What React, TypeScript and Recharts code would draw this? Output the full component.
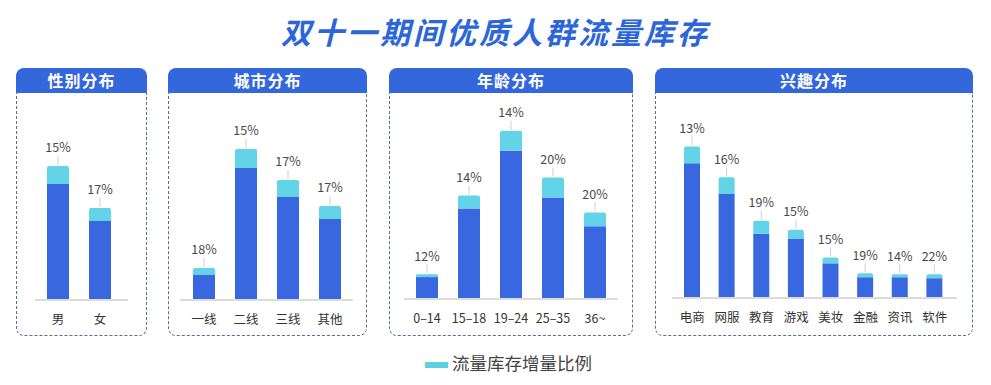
import React from 'react';
import { BarChart, Bar, XAxis, YAxis, LabelList } from 'recharts';

const genderCats = ['男', '女'];
const genderBase = [116, 79];
const genderInc = [18, 13];
const genderPct = ['15%', '17%'];

const cityCats = ['一线', '二线', '三线', '其他'];
const cityBase = [25, 132, 103, 81];
const cityInc = [7, 19, 17, 13];
const cityPct = ['18%', '15%', '17%', '17%'];

const ageCats = ['0–14', '15–18', '19–24', '25–35', '36~'];
const ageBase = [22, 91, 149, 102, 73];
const ageInc = [3, 13, 20, 20, 14];
const agePct = ['12%', '14%', '14%', '20%', '20%'];

const interestCats = ['电商', '网服', '教育', '游戏', '美妆', '金融', '资讯', '软件'];
const interestBase = [136, 105, 65, 60, 35, 21, 21, 20];
const interestInc = [17, 17, 13, 9, 6, 4, 3, 4];
const interestPct = ['13%', '16%', '19%', '15%', '15%', '19%', '14%', '22%'];

const titleText = '双十一期间优质人群流量库存';
const legendText = '流量库存增量比例';

const BLUE = '#3967e0';
const CYAN = '#63d3e8';
const HEADER = '#3466dc';
const FONT = '"Noto Sans CJK SC", "Noto Sans", sans-serif';

const build = (cats: string[], base: number[], inc: number[], pct: string[]) =>
  cats.map((c, i) => ({ name: c, base: base[i], inc: inc[i], pct: pct[i] }));

const panels = [
  { title: '性别分布', data: build(genderCats, genderBase, genderInc, genderPct), x: 16, w: 131, ml: 19, mr: 19, pl: 2, pr: 7, bar: 22, mb: 5 },
  { title: '城市分布', data: build(cityCats, cityBase, cityInc, cityPct), x: 168, w: 199, ml: 12, mr: 14, pl: 3, pr: 2, bar: 22, mb: 5 },
  { title: '年龄分布', data: build(ageCats, ageBase, ageInc, agePct), x: 389, w: 244, ml: 15, mr: 15, pl: 2, pr: 2, bar: 22, mb: 6 },
  { title: '兴趣分布', data: build(interestCats, interestBase, interestInc, interestPct), x: 655, w: 318, ml: 17, mr: 16, pl: 3, pr: 5, bar: 16, mb: 7 },
];

const HEADER_TOP = 68;
const HEADER_H = 25;
const BOTTOM = 336;

const PctLabel = (props: any) => {
  const { x, y, width, value } = props;
  const cx = x + width / 2;
  return (
    <g>
      <line x1={cx} x2={cx} y1={y - 1} y2={y - 10} stroke="#d0d0d0" strokeWidth={1} />
      <text x={cx} y={y - 17} textAnchor="middle" dominantBaseline="middle" fontSize={12.5} fill="#4a4a4a" fontFamily={FONT}>
        {value}
      </text>
    </g>
  );
};

export default function App() {
  return (
    <div style={{ position: 'absolute', left: 0, top: 0, width: 991, height: 385, background: '#fff', fontFamily: FONT, overflow: 'hidden' }}>
      <div
        style={{
          position: 'absolute', left: 0, top: 13, width: 991, textAlign: 'center',
          fontSize: 30, lineHeight: '36px', fontWeight: 700, fontStyle: 'italic', color: '#2d66d8', letterSpacing: 3,
        }}
      >
        {titleText}
      </div>
      {panels.map((p) => (
        <React.Fragment key={p.title}>
          <div
            style={{
              position: 'absolute', left: p.x, top: HEADER_TOP, width: p.w, height: HEADER_H,
              background: HEADER, borderRadius: '8px 8px 0 0', color: '#fff', fontWeight: 700, fontSize: 16,
              lineHeight: `${HEADER_H}px`, textAlign: 'center', letterSpacing: 1,
            }}
          >
            {p.title}
          </div>
          <div
            style={{
              position: 'absolute', left: p.x, top: HEADER_TOP + HEADER_H, width: p.w, height: BOTTOM - HEADER_TOP - HEADER_H,
              boxSizing: 'border-box', border: '1px dashed #5b6d96', borderTop: 'none', borderRadius: '0 0 8px 8px',
            }}
          />
          <div style={{ position: 'absolute', left: p.x, top: HEADER_TOP + HEADER_H }}>
            <BarChart
              width={p.w}
              height={BOTTOM - HEADER_TOP - HEADER_H - 1}
              data={p.data}
              margin={{ top: 7, right: p.mr, left: p.ml, bottom: p.mb }}
              barSize={p.bar}
            >
              <XAxis
                dataKey="name"
                height={30}
                tickLine={false}
                axisLine={{ stroke: '#dcdcdc', strokeWidth: 2 }}
                padding={{ left: p.pl, right: p.pr }}
                tick={{ fontSize: 12.5, fill: '#333', fontFamily: FONT }}
                tickMargin={9}
                interval={0}
              />
              <YAxis hide domain={[0, 200]} />
              <Bar dataKey="base" stackId="a" fill={BLUE} isAnimationActive={false} />
              <Bar dataKey="inc" stackId="a" fill={CYAN} radius={[2, 2, 0, 0]} isAnimationActive={false}>
                <LabelList dataKey="pct" content={PctLabel} />
              </Bar>
            </BarChart>
          </div>
        </React.Fragment>
      ))}
      <div style={{ position: 'absolute', left: 425, top: 362, width: 23, height: 6, background: '#5fcfe3' }} />
      <div style={{ position: 'absolute', left: 452, top: 351, fontSize: 17.5, lineHeight: '24px', color: '#444' }}>{legendText}</div>
    </div>
  );
}
